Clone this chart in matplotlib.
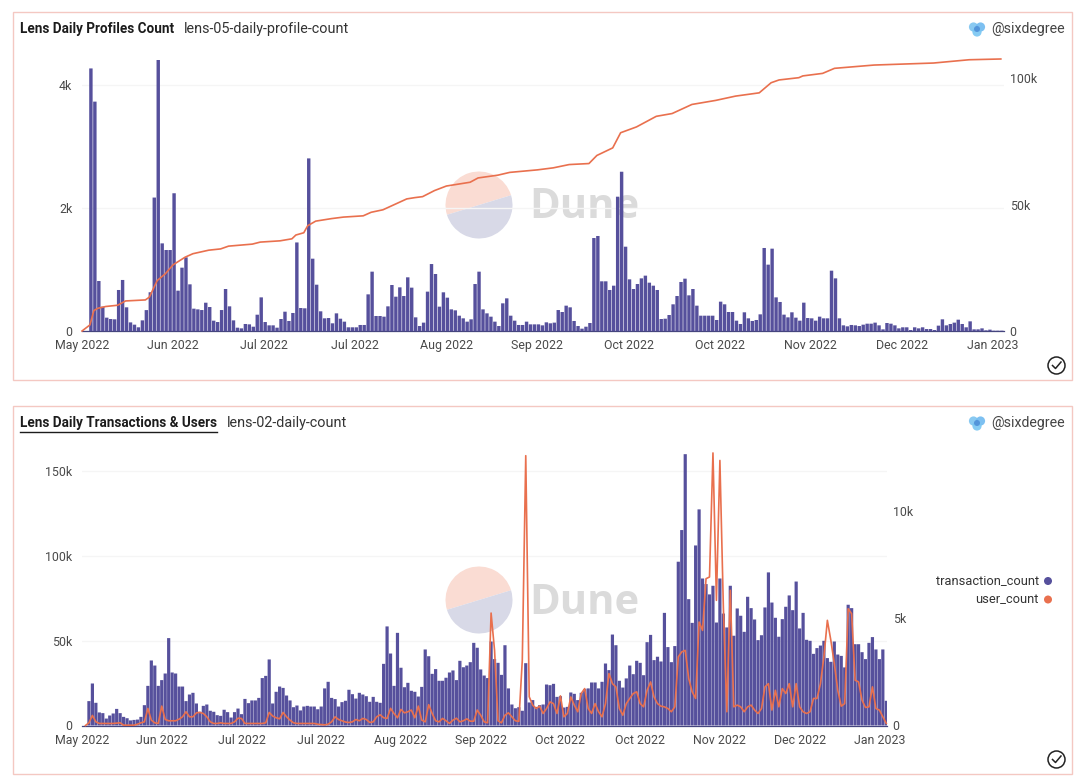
import matplotlib
matplotlib.use('Agg')
import matplotlib.pyplot as plt
from matplotlib.patches import Rectangle, Circle, Wedge
from matplotlib.lines import Line2D
import numpy as np
import pandas as pd

W, H = 1080, 781
PURPLE = '#56509c'
ORANGE = '#e9704e'
plt.rcParams['font.family'] = ['Roboto', 'DejaVu Sans']

first_tick = '2022-05-17'
tick_step_days = 23
tick_count = 11

# top chart
new_profiles = [
    4270, 3730, 813, 395, 217, 195, 190, 667, 830, 385, 140, 103, 60, 173, 340, 630, 2170, 4407, 1425, 1317,
    1317, 2240, 656, 1030, 1198, 759, 363, 352, 341, 460, 390, 168, 146, 341, 683, 401, 173, 54, 43, 114,
    108, 70, 265, 547, 146, 92, 92, 54, 195, 314, 163, 293, 1440, 374, 369, 2807, 1176, 753, 320, 206,
    211, 125, 287, 200, 152, 60, 60, 60, 98, 98, 596, 965, 244, 244, 233, 401, 748, 558, 710, 569,
    873, 705, 222, 81, 136, 640, 1089, 927, 396, 629, 542, 352, 336, 249, 206, 152, 190, 764, 965, 352,
    287, 233, 152, 81, 450, 531, 249, 168, 98, 98, 152, 108, 108, 108, 92, 141, 125, 136, 341, 309,
    412, 385, 163, 81, 38, 70, 130, 1512, 1545, 808, 808, 667, 737, 2184, 2590, 1371, 840, 683, 764, 856,
    900, 786, 737, 667, 195, 200, 260, 434, 569, 797, 851, 580, 683, 412, 249, 249, 249, 249, 179, 477,
    434, 309, 309, 168, 114, 304, 206, 163, 179, 271, 1350, 1079, 1339, 547, 472, 266, 222, 304, 217, 168,
    461, 211, 206, 168, 233, 206, 206, 981, 856, 206, 92, 76, 98, 92, 81, 103, 119, 119, 136, 92,
    27, 130, 119, 92, 43, 60, 60, 16, 60, 43, 60, 32, 32, 16, 87, 190, 92, 114, 136, 184,
    114, 60, 157, 27, 27, 43, 11, 22, 5, 5, 5,
]
total_days = [
    0, 2, 3, 4, 6, 9, 11, 16, 17, 19, 21, 23, 26, 28, 32, 35, 37, 43, 45, 50, 53, 54, 56, 57, 59, 63, 66, 71, 73,
    76, 82, 84, 86, 89, 92, 98, 100, 105, 108, 115, 119, 123, 128, 130, 134, 136, 140, 145, 149, 154, 160, 165,
    171, 174, 176, 181, 182, 187, 190, 200, 215, 224, 232,
]
total_profiles = [
    0, 2400, 8100, 9000, 9700, 10200, 11900, 12300, 13400, 20000, 22600, 26200, 29200, 30600, 32000, 32500, 33600,
    34400, 35200, 35700, 36500, 38000, 38900, 41700, 43500, 44500, 45100, 45600, 47000, 48000, 52300, 52800, 53200,
    55600, 57400, 58900, 60600, 61700, 62800, 63800, 64600, 65900, 66300, 69500, 72500, 78500, 80800, 85000, 86100,
    89700, 91300, 93000, 94300, 98300, 99400, 100300, 101000, 102000, 104000, 105300, 106100, 107400, 107700,
]

# bottom chart
transactions_k = [
    14.4, 24.8, 13.4, 7.7, 7.3, 4.1, 5.9, 7.1, 9.8, 7.3, 5.1, 4.3, 3.0, 3.3, 3.5, 5.1, 12.0, 23.4, 38.4, 35.4,
    23.4, 26.8, 30.7, 51.6, 31.3, 30.7, 23.0, 23.0, 14.4, 18.3, 19.3, 13.0, 8.1, 11.6, 12.4, 8.7, 8.1, 6.1, 5.7, 9.3,
    7.9, 4.7, 7.9, 10.0, 6.7, 15.7, 13.2, 14.8, 14.8, 16.3, 28.0, 29.3, 39.0, 13.0, 19.9, 23.0, 22.2, 17.7, 14.8, 10.8,
    11.8, 8.9, 11.2, 11.6, 11.2, 11.2, 9.6, 11.2, 21.9, 25.8, 16.3, 15.6, 11.2, 13.8, 14.6, 21.1, 18.5, 15.9, 19.3, 18.3,
    17.3, 14.0, 16.9, 14.0, 13.4, 36.4, 58.5, 42.5, 23.4, 54.7, 34.1, 22.6, 25.2, 20.5, 19.9, 17.1, 22.8, 44.9, 40.9, 30.5,
    33.3, 26.4, 26.4, 28.2, 31.3, 32.5, 26.8, 38.2, 34.4, 35.4, 37.4, 48.8, 45.9, 33.1, 29.5, 28.0, 49.6, 39.2, 37.0, 29.9,
    47.4, 21.9, 12.4, 10.2, 10.8, 8.7, 36.8, 13.6, 15.0, 11.0, 12.0, 12.4, 24.2, 23.8, 24.6, 16.9, 17.3, 10.6, 11.0, 19.5,
    18.7, 15.0, 19.3, 21.5, 21.9, 25.4, 25.4, 21.9, 25.8, 36.6, 32.7, 53.7, 47.4, 26.4, 22.4, 27.8, 35.4, 30.3, 38.2, 37.0,
    29.7, 49.2, 53.5, 38.6, 40.6, 37.8, 66.5, 46.3, 37.4, 46.9, 96.7, 115.4, 160.2, 74.6, 60.6, 106.3, 127.6, 86.8, 83.5, 77.4,
    82.5, 60.8, 86.8, 66.1, 57.9, 82.5, 53.0, 69.1, 64.8, 55.3, 76.0, 69.3, 62.6, 50.4, 53.3, 69.7, 90.4, 72.6, 63.6, 52.4,
    62.8, 70.1, 76.8, 68.1, 85.0, 57.3, 66.5, 50.6, 50.0, 42.3, 45.7, 47.2, 50.0, 39.8, 37.6, 49.6, 41.9, 41.1, 34.3, 71.3,
    69.3, 48.0, 48.0, 43.3, 39.2, 48.8, 52.2, 44.9, 39.2, 44.9, 14.6,
]
users = [
    0, 125, 470, 170, 95, 95, 95, 95, 95, 110, 125, 15, 15, 15, 15, 60, 125, 170, 795, 250, 125,
    95, 905, 280, 220, 220, 220, 295, 405, 640, 405, 405, 590, 610, 560, 405, 170, 95, 95, 125, 95,
    95, 95, 170, 340, 330, 95, 95, 95, 95, 95, 95, 125, 610, 440, 360, 310, 610, 405, 250, 125, 95,
    95, 95, 95, 95, 95, 60, 45, 30, 60, 170, 405, 280, 220, 160, 140, 170, 280, 220, 330, 280,
    140, 170, 405, 500, 360, 330, 800, 560, 360, 750, 590, 640, 720, 360, 905, 250, 170, 970, 560, 220,
    170, 330, 220, 95, 250, 340, 170, 220, 310, 200, 200, 720, 480, 170, 125, 5240, 3500, 220, 125, 480,
    590, 405, 220, 190, 3040, 12570, 1340, 950, 790, 900, 560, 790, 1100, 1020, 560, 1380, 405, 560, 1330, 950,
    640, 1490, 1720, 790, 560, 1020, 640, 405, 1020, 2420, 1950, 1800, 790, 480, 1020, 1260, 1490, 1570, 1020, 870,
    1640, 2030, 1330, 1020, 900, 870, 790, 640, 870, 3200, 3430, 3500, 2190, 1570, 1260, 4820, 4430, 6840, 6920, 12700,
    5830, 12350, 5500, 640, 6300, 870, 950, 870, 640, 870, 950, 720, 560, 790, 1800, 1950, 720, 1640, 870, 1720,
    1490, 1950, 870, 1950, 870, 640, 560, 640, 1260, 1260, 1950, 3200, 4900, 3970, 2880, 1640, 900, 1020, 5440, 5210,
    2110, 2030, 1180, 840, 870, 1800, 790, 720, 405, 95,
]

left_ticks_top = [0, 2000, 4000]
left_labels_top = ['0', '2k', '4k']
right_ticks_top = [0, 50000, 100000]
right_labels_top = ['0', '50k', '100k']
left_ticks_bottom = [0, 50, 100, 150]
left_labels_bottom = ['0', '50k', '100k', '150k']
right_ticks_bottom = [0, 5000, 10000]
right_labels_bottom = ['0', '5k', '10k']


def px_axes(fig, left, top, right, bottom):
    return fig.add_axes([left / W, 1 - bottom / H, (right - left) / W, (bottom - top) / H])


def draw_chart(fig, box, bars, first_bar, bar_top, bar_w, line_x, line_y, line_top, x_end, lw, ticks):
    left, top, right, bottom = box
    ticks_l, labels_l, ticks_r, labels_r = ticks
    ax = px_axes(fig, left, top, right, bottom)
    tick_dates = pd.date_range(first_tick, periods=tick_count, freq=f'{tick_step_days}D')
    ax.bar(pd.date_range(first_bar, periods=len(bars)), bars, width=bar_w, color=PURPLE, zorder=3,
           snap=False, lw=0)
    ax.set_xlim(tick_dates[0], tick_dates[0] + pd.Timedelta(days=x_end))
    ax.set_ylim(0, bar_top)
    ax.set_xticks(tick_dates)
    ax.set_xticklabels([d.strftime('%b %Y') for d in tick_dates])
    ax.set_yticks(ticks_l)
    ax.set_yticklabels(labels_l)
    ax.grid(axis='y', color='#f5f5f5', lw=1, zorder=0)
    ax.set_axisbelow(True)
    for s in ['top', 'left', 'right']:
        ax.spines[s].set_visible(False)
    ax.spines['bottom'].set_color('#45457e')
    ax.spines['bottom'].set_linewidth(0.9)
    ax.tick_params(axis='both', length=0, labelsize=8.9, labelcolor='#4a4a4a')
    ax.tick_params(axis='x', pad=6)
    ax.tick_params(axis='y', pad=7)
    ax.patch.set_alpha(0)

    ax2 = ax.twinx()
    ax2.plot(line_x, line_y, color=ORANGE, lw=lw, zorder=5, solid_joinstyle='round', clip_on=False)
    ax2.set_ylim(0, line_top)
    ax2.set_yticks(ticks_r)
    ax2.set_yticklabels(labels_r)
    ax2.tick_params(axis='y', length=0, labelsize=8.9, labelcolor='#4a4a4a', pad=4)
    for s in ax2.spines.values():
        s.set_visible(False)
    ax2.patch.set_alpha(0)
    return ax


def watermark(wm, cx, cy):
    # logo + word go behind the charts, very light
    wm.add_patch(Wedge((cx, cy), 33.5, 163, 343, fc='#fadcd3', ec='none', zorder=1))
    wm.add_patch(Wedge((cx, cy), 33.5, -17, 163, fc='#d8d9e7', ec='none', zorder=1))
    wm.text(cx + 50, cy + 3, 'Dune', fontsize=30, fontweight='bold', color='#dbdbdb',
            va='center', ha='left', family=['Open Sans', 'DejaVu Sans'])


def chrome(fig, y0, y1, title, subtitle, underline=False):
    bg = fig.add_axes([0, 0, 1, 1], zorder=20)
    bg.set_xlim(0, W)
    bg.set_ylim(H, 0)
    bg.axis('off')
    bg.add_patch(Rectangle((12.5, y0), 1059, y1 - y0, fc='none', ec='#f4c8c2', lw=1))
    t = bg.text(20, y0 + 17.5, title, fontsize=9.75, fontweight='bold', color='#1c1c1c', va='center')
    fig.canvas.draw()
    bb = t.get_window_extent().transformed(bg.transData.inverted())
    if underline:
        bg.add_line(Line2D([bb.x0, bb.x1], [y0 + 26, y0 + 26], color='#1c1c1c', lw=1))
    bg.text(bb.x1 + 10, y0 + 17.5, subtitle, fontsize=10.4, color='#333333', va='center')
    # user badge
    for dx, dy, c in [(-3.5, -2, '#7cc4f0'), (3.5, -2, '#6fbaf0'), (0, 3, '#79c6f2'), (0, 0, '#4f90d8')]:
        bg.add_patch(Circle((977 + dx, y0 + 17 + dy), 4.6 if c != '#4f90d8' else 3, fc=c, ec='none', alpha=0.9))
    bg.text(1065, y0 + 17.5, '@sixdegree', fontsize=10.2, color='#444444', va='center', ha='right')
    # check mark
    bg.add_patch(Circle((1056.5, y1 - 14.5), 8.5, fc='none', ec='#222222', lw=1.1))
    bg.add_line(Line2D([1052.5, 1055.5, 1061], [y1 - 14.5, y1 - 11.5, y1 - 18], color='#222222', lw=1.1))
    return bg


fig = plt.figure(figsize=(W / 100, H / 100), dpi=100, facecolor='white')

wm = fig.add_axes([0, 0, 1, 1], zorder=-1)
wm.set_xlim(0, W)
wm.set_ylim(H, 0)
wm.axis('off')
watermark(wm, 479, 205)
watermark(wm, 479, 600)

profile_dates = pd.Timestamp(first_tick) + pd.to_timedelta(total_days, unit='D')
draw_chart(fig, (82, 60, 1004, 331), new_profiles, '2022-05-19 06:00', 4407, 0.86, profile_dates, total_profiles,
           107300, 232.8, 1.2, (left_ticks_top, left_labels_top, right_ticks_top, right_labels_top))

user_dates = pd.date_range('2022-05-18', periods=len(users))
draw_chart(fig, (82, 454, 887, 725.5), transactions_k, '2022-05-19', 160.3, 0.92, user_dates, users,
           12650, 232.2, 1.2, (left_ticks_bottom, left_labels_bottom, right_ticks_bottom, right_labels_bottom))

chrome(fig, 12, 380, 'Lens Daily Profiles Count', 'lens-05-daily-profile-count')
bg = chrome(fig, 406, 774, 'Lens Daily Transactions & Users', 'lens-02-daily-count', underline=True)

bg.text(1039, 580.5, 'transaction_count', fontsize=9.3, color='#333333', va='center', ha='right')
bg.text(1039, 599.5, 'user_count', fontsize=9.3, color='#333333', va='center', ha='right')
bg.add_patch(Circle((1048, 581), 4, fc=PURPLE, ec='none'))
bg.add_patch(Circle((1048, 599.5), 4, fc=ORANGE, ec='none'))

fig.savefig('out.png', dpi=100)
